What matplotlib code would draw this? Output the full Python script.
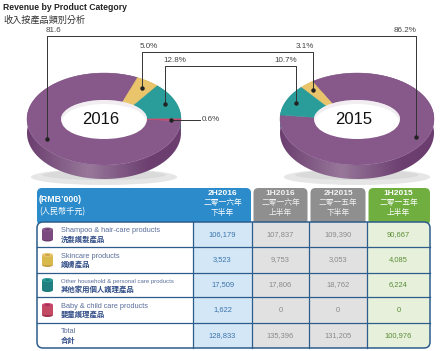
import numpy as np
import matplotlib
matplotlib.use("Agg")
import matplotlib.pyplot as plt
from matplotlib.patches import FancyBboxPatch, Ellipse, Rectangle, Polygon
from matplotlib.colors import to_rgb
from matplotlib import font_manager as fm

# ---------------- data ----------------
categories_en = ["Shampoo & hair-care products", "Skincare products",
                 "Other household & personal care products", "Baby & child care products"]
categories_zh = ["洗髮護髮產品", "護膚產品", "其他家用個人護理產品", "嬰童護理產品"]
share_2016 = [81.6, 5.0, 12.8, 0.6]
share_2015 = [86.2, 3.1, 10.7, 0.0]
share_labels_2016 = ["81.6", "5.0%", "12.8%", "0.6%"]
share_labels_2015 = ["86.2%", "3.1%", "10.7%", ""]
periods = ["2H2016", "1H2016", "2H2015", "1H2015"]
periods_zh1 = ["二零一六年", "二零一六年", "二零一五年", "二零一五年"]
periods_zh2 = ["下半年", "上半年", "下半年", "上半年"]
rev_2H2016 = [106179, 3523, 17509, 1622]
rev_1H2016 = [107837, 9753, 17806, 0]
rev_2H2015 = [109390, 3053, 18762, 0]
rev_1H2015 = [90667, 4085, 6224, 0]
total_label = ("Total", "合計")

# ---------------- fonts ----------------
avail = {f.name for f in fm.fontManager.ttflist}
LATIN = "Liberation Sans" if "Liberation Sans" in avail else "DejaVu Sans"
NARROW = "Liberation Sans Narrow" if "Liberation Sans Narrow" in avail else LATIN
CJK = "Noto Sans CJK TC"
plt.rcParams["font.family"] = [LATIN, CJK, "DejaVu Sans"]
narrow_ok = NARROW != LATIN

# ---------------- colours ----------------
top_cols = ["#87598b", "#e9c46b", "#2a9c9a", "#c9456b"]
side_cols = ["#6b3e6f", "#c6a146", "#1d7b79", "#a0304f"]
icon_cols = ["#7b4a7f", "#d8ba4c", "#217f7f", "#c24a62"]


def blend(c, w, f):
    c = np.array(to_rgb(c)); w = np.array(to_rgb(w))
    return c * (1 - f) + w * f


fig = plt.figure(figsize=(4.4, 3.51), dpi=100)
ax = fig.add_axes([0, 0, 1, 1])
ax.set_xlim(0, 440)
ax.set_ylim(351, 0)
ax.axis("off")

# ---------------- title ----------------
if narrow_ok:
    ax.text(3, 8, "Revenue by Product Category", family=[NARROW], fontsize=7.8,
            fontweight="bold", color="#222222", va="center", ha="left")
else:
    ax.text(3, 8, "Revenue by Product Category", fontsize=6.2,
            fontweight="bold", color="#222222", va="center", ha="left")
ax.text(3, 20, "收入按產品類別分析", family=[CJK], fontsize=6.6, color="#333333",
        va="center", ha="left")

# ---------------- donuts ----------------
RX, RY, IRX, IRY, DEPTH = 77, 46, 43, 19, 14
DOT_F = 0.7


def pt(cx, cy, ang, rx, ry):
    a = np.radians(ang)
    return cx + rx * np.cos(a), cy - ry * np.sin(a)


def donut(cx, cy, values, start, direction, year, dot_override):
    total = sum(values)
    bounds = start + direction * 360 * np.concatenate([[0], np.cumsum(values)]) / total
    # shadow
    ax.add_patch(Ellipse((cx, cy + RY + DEPTH - 2), 2 * RX * 0.95, 16,
                         color="#e6e6e6", zorder=1, lw=0))
    ax.add_patch(Ellipse((cx, cy + RY + DEPTH - 4), 2 * RX * 0.8, 10,
                         color="#dadada", zorder=1, lw=0))
    segs = []
    for i, v in enumerate(values):
        if v <= 0:
            continue
        a0, a1 = sorted((bounds[i], bounds[i + 1]))
        th = np.linspace(a0, a1, 200)
        segs.append((i, th))
    # sides with horizontal gradient (clipped image)
    xg = np.linspace(cx - RX, cx + RX, 200)
    cg = np.clip((xg - cx) / RX, -1, 1)
    fac = 0.30 * np.clip(1 - np.abs(cg + 0.2) * 1.25, 0, 1)
    for i, th in segs:
        xs, ys = pt(cx, cy, th, RX, RY)
        poly = np.column_stack([np.r_[xs, xs[::-1]], np.r_[ys, (ys + DEPTH)[::-1]]])
        patch = Polygon(poly, closed=True, fc="none", ec="none", zorder=2)
        ax.add_patch(patch)
        img = np.array([[blend(side_cols[i], "#ffffff", f) for f in fac]])
        im = ax.imshow(img, extent=(cx - RX, cx + RX, cy + RY + DEPTH + 1, cy - RY),
                       aspect="auto", interpolation="bilinear", zorder=2)
        im.set_clip_path(patch)
    ax.set_xlim(0, 440)
    ax.set_ylim(351, 0)
    # tops
    for i, th in segs:
        xo, yo = pt(cx, cy, th, RX, RY)
        xi, yi = pt(cx, cy, th[::-1], IRX, IRY)
        poly = np.column_stack([np.r_[xo, xi], np.r_[yo, yi]])
        ax.add_patch(Polygon(poly, closed=True, fc=top_cols[i], ec=top_cols[i], lw=0.3, zorder=3))
    # hole with faint inner wall
    ax.add_patch(Ellipse((cx, cy), 2 * IRX, 2 * IRY, fc="#f1edf1", ec="none", zorder=4))
    ax.add_patch(Ellipse((cx, cy + 2.5), 2 * IRX - 2, 2 * IRY - 3, fc="white", ec="none", zorder=4))
    ax.text(cx - 3, cy + 1, year, fontsize=12, color="#111111", ha="center", va="center", zorder=6)
    # dot positions
    dots = {}
    for i, v in enumerate(values):
        if v <= 0:
            continue
        ang = dot_override.get(i, (bounds[i] + bounds[i + 1]) / 2)
        dots[i] = pt(cx, cy, ang, IRX + DOT_F * (RX - IRX), IRY + DOT_F * (RY - IRY))
    return dots


dots16 = donut(104, 119, share_2016, -2.0, -1, "2016", {0: 212})
dots15 = donut(357, 119, share_2015, 175.0, 1, "2015", {0: -28})

# ---------------- callouts ----------------
line_kw = dict(color="#333333", lw=0.7, zorder=7)
levels = {0: 36, 1: 52, 2: 66}
lab_kw = dict(fontsize=5.8, color="#444444", zorder=8)
for i, yl in levels.items():
    x1, y1 = dots16[i]
    x2, y2 = dots15[i]
    ax.plot([x1, x1, x2, x2], [y1, yl, yl, y2], **line_kw)
    ax.plot([x1, x2], [y1, y2], "o", ms=2.2, color="#222222", zorder=8, lw=0)
    ax.text(x1 - 2, yl - 1.5, share_labels_2016[i], ha="left", va="bottom", **lab_kw)
    ax.text(x2 + 1, yl - 1.5, share_labels_2015[i], ha="right", va="bottom", **lab_kw)
# baby share (2016 only)
xb, yb = dots16[3]
ax.plot([xb, 200], [yb, yb], **line_kw)
ax.plot([xb], [yb], "o", ms=2.2, color="#222222", zorder=8)
ax.text(202, yb, share_labels_2016[3], ha="left", va="center", **lab_kw)

# ---------------- table ----------------
X0, X1 = 37, 430
col_edges = [193, 252, 309, 367, 430]
HY0, HY1 = 188, 221
row_edges = [222, 247, 273, 297, 323, 348]
border = "#2c5d8c"
body_fills = ["#d3e7f6", "#e1e1e1", "#e1e1e1", "#e7f0da"]
head_fills = ["#2b8bcb", "#8f8f8f", "#8f8f8f", "#6fae3f"]
head_text = ["white", "#f2f2f2", "#f2f2f2", "white"]
val_cols = ["#3a74aa", "#8a8a8a", "#8a8a8a", "#5a8c37"]

# headers
ax.add_patch(FancyBboxPatch((X0, HY0), col_edges[1] - X0 - 1, HY1 - HY0 + 4,
                            boxstyle="round,pad=0,rounding_size=5", fc=head_fills[0], ec="none", zorder=2))
for j in range(1, 4):
    xa = col_edges[j] + 1.5
    xb_ = col_edges[j + 1] - 1.5 if j < 3 else col_edges[j + 1]
    ax.add_patch(FancyBboxPatch((xa, HY0), xb_ - xa, HY1 - HY0 + 4,
                                boxstyle="round,pad=0,rounding_size=5", fc=head_fills[j], ec="none", zorder=2))
ax.text(39, 199.5, "(RMB’000)", fontsize=6.3, fontweight="bold", color="white", va="center", zorder=5)
ax.text(39, 212, "(人民幣千元)", family=[CJK], fontsize=5.9, color="white", va="center", zorder=5)
for j in range(4):
    cxh = (col_edges[j] + col_edges[j + 1]) / 2
    ax.text(cxh, 193.5, periods[j], fontsize=6.0, fontweight="bold", color=head_text[j],
            ha="center", va="center", zorder=5)
    ax.text(cxh, 203.5, periods_zh1[j], family=[CJK], fontsize=5.6, color=head_text[j],
            ha="center", va="center", zorder=5)
    ax.text(cxh, 213.5, periods_zh2[j], family=[CJK], fontsize=5.6, color=head_text[j],
            ha="center", va="center", zorder=5)

# body background
body = FancyBboxPatch((X0, row_edges[0]), X1 - X0, row_edges[-1] - row_edges[0],
                      boxstyle="round,pad=0,rounding_size=6", fc="white", ec="none", zorder=3)
ax.add_patch(body)
for j in range(4):
    r = Rectangle((col_edges[j], row_edges[0]), col_edges[j + 1] - col_edges[j],
                  row_edges[-1] - row_edges[0], fc=body_fills[j], ec="none", zorder=3)
    r.set_clip_path(body)
    ax.add_patch(r)
ax.add_patch(FancyBboxPatch((X0, row_edges[0]), X1 - X0, row_edges[-1] - row_edges[0],
                            boxstyle="round,pad=0,rounding_size=6", fc="none", ec=border, lw=1.1, zorder=4))
for y in row_edges[1:-1]:
    ax.plot([X0, X1], [y, y], color=border, lw=0.9, zorder=4)
for x in col_edges[:-1]:
    ax.plot([x, x], [row_edges[0], row_edges[-1]], color=border, lw=0.9, zorder=4)

columns = [rev_2H2016, rev_1H2016, rev_2H2015, rev_1H2015]
n = len(categories_en)
for r in range(n + 1):
    yc = (row_edges[r] + row_edges[r + 1]) / 2
    if r < n:
        en, zh = categories_en[r], categories_zh[r]
        # icon: small ring cylinder
        ix, iw, ih = 47.5, 11, 4
        col = icon_cols[r]
        ax.add_patch(Ellipse((ix, yc + 5), iw, ih, fc=side_cols[r], ec="none", zorder=5))
        ax.add_patch(Rectangle((ix - iw / 2, yc - 5), iw, 10, fc=col, ec="none", zorder=5))
        ax.add_patch(Ellipse((ix, yc - 5), iw, ih, fc=top_cols[r], ec="none", zorder=6))
        ax.add_patch(Ellipse((ix, yc - 5), iw * 0.45, ih * 0.45, fc=side_cols[r], ec="none", zorder=7))
        if r == 2 and narrow_ok:
            ax.text(61, yc - 4, en, family=[NARROW], fontsize=5.0, color="#5a6e9a", va="center", zorder=5)
        else:
            ax.text(61, yc - 4, en, fontsize=4.3 if r == 2 else 5.3, color="#5a6e9a",
                    va="center", zorder=5)
        ax.text(61, yc + 4.5, zh, family=[CJK], fontsize=5.3, fontweight="bold",
                color="#2f4c86", va="center", zorder=5)
    else:
        ax.text(61, yc - 4, total_label[0], fontsize=5.3, color="#5a6e9a", va="center", zorder=5)
        ax.text(61, yc + 4.5, total_label[1], family=[CJK], fontsize=5.3, fontweight="bold",
                color="#2f4c86", va="center", zorder=5)
    for j in range(4):
        v = columns[j][r] if r < n else sum(columns[j])
        cxv = (col_edges[j] + col_edges[j + 1]) / 2
        ax.text(cxv, yc, f"{v:,}", fontsize=5.4, color=val_cols[j], ha="center", va="center", zorder=5)

fig.savefig("out.png", dpi=100)
